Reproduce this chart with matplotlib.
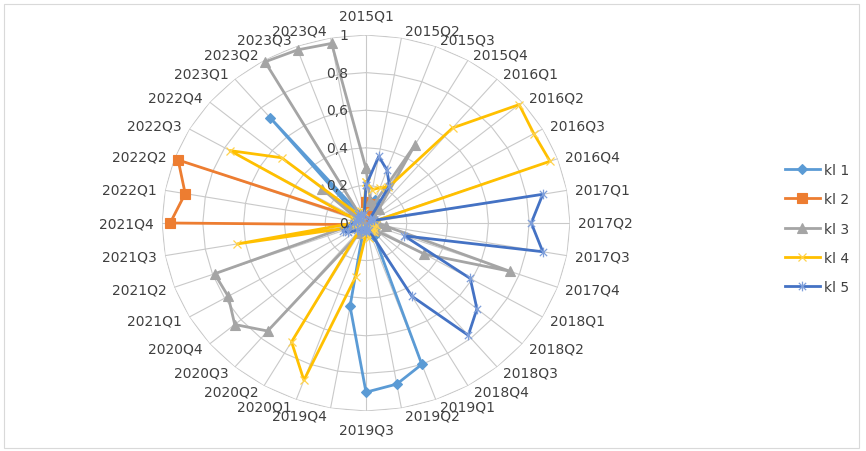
import numpy as np
import matplotlib

matplotlib.use("Agg")
import matplotlib.pyplot as plt  # noqa: E402
from matplotlib.path import Path  # noqa: E402
from matplotlib.patches import Rectangle  # noqa: E402

plt.rcParams["font.family"] = ["DejaVu Sans"]

# quarters 2015Q1 .. 2023Q4
quarters = [f"{y}Q{q}" for y in range(2015, 2024) for q in range(1, 5)]

kl1 = [0.06, 0.08, 0.13, 0.06, 0.03, 0.02, 0.03, 0.02, 0.03, 0.02, 0.04, 0.03,
       0.05, 0.04, 0.06, 0.08, 0.80, 0.87, 0.90, 0.45, 0.04, 0.03, 0.02, 0.03,
       0.02, 0.03, 0.02, 0.03, 0.02, 0.03, 0.04, 0.05, 0.73, 0.05, 0.03, 0.04]
kl2 = [0.11, 0.10, 0.04, 0.03, 0.02, 0.02, 0.02, 0.01, 0.02, 0.02, 0.01, 0.02,
       0.02, 0.01, 0.02, 0.02, 0.01, 0.02, 0.02, 0.01, 0.02, 0.02, 0.03, 0.02,
       0.03, 0.04, 0.05, 0.96, 0.90, 0.98, 0.05, 0.04, 0.03, 0.03, 0.04, 0.05]
kl3 = [0.29, 0.12, 0.10, 0.48, 0.10, 0.05, 0.04, 0.05, 0.04, 0.06, 0.10, 0.75,
       0.33, 0.06, 0.05, 0.04, 0.05, 0.03, 0.04, 0.03, 0.05, 0.06, 0.75, 0.84,
       0.78, 0.79, 0.08, 0.05, 0.04, 0.05, 0.06, 0.28, 0.03, 0.99, 0.98, 0.97]
kl4 = [0.22, 0.18, 0.20, 0.22, 0.66, 0.98, 0.95, 0.96, 0.03, 0.04, 0.05, 0.03,
       0.04, 0.05, 0.06, 0.05, 0.07, 0.08, 0.06, 0.29, 0.89, 0.73, 0.05, 0.04,
       0.05, 0.06, 0.64, 0.06, 0.05, 0.06, 0.77, 0.54, 0.06, 0.05, 0.07, 0.06]
kl5 = [0.20, 0.36, 0.30, 0.23, 0.03, 0.02, 0.03, 0.04, 0.88, 0.81, 0.88, 0.20,
       0.59, 0.71, 0.78, 0.45, 0.04, 0.03, 0.05, 0.04, 0.03, 0.05, 0.04, 0.06,
       0.10, 0.12, 0.08, 0.06, 0.05, 0.04, 0.05, 0.04, 0.06, 0.05, 0.04, 0.05]

series_names = ["kl 1", "kl 2", "kl 3", "kl 4", "kl 5"]
series_values = [kl1, kl2, kl3, kl4, kl5]
radial_ticks = [0, 0.2, 0.4, 0.6, 0.8, 1.0]
radial_labels = ["0", "0,2", "0,4", "0,6", "0,8", "1"]

# excel-like asterisk marker
asterisk = Path([(0, -1), (0, 1), (-0.75, -0.75), (0.75, 0.75), (-0.75, 0.75), (0.75, -0.75)],
                [Path.MOVETO, Path.LINETO, Path.MOVETO, Path.LINETO, Path.MOVETO, Path.LINETO])

styles = [
    dict(color="#5B9BD5", marker="D", ms=5, mfc="#5B9BD5", mec="#5B9BD5", mew=0.8),
    dict(color="#ED7D31", marker="s", ms=6.5, mfc="#ED7D31", mec="#ED7D31", mew=0.8),
    dict(color="#A5A5A5", marker="^", ms=6.5, mfc="#A5A5A5", mec="#A5A5A5", mew=0.8),
    dict(color="#FFC000", marker="x", ms=6, mfc="none", mec="#FFD34D", mew=0.9),
    dict(color="#4472C4", marker=asterisk, ms=7, mfc="none", mec="#7F9FDA", mew=0.9),
]

TXT = "#404040"
GRID = "#C9C9C9"

fig = plt.figure(figsize=(8.66, 4.52), dpi=100)
fig.add_artist(Rectangle((4 / 866, 3 / 452), 855 / 866, 444 / 452, transform=fig.transFigure,
                         fill=False, edgecolor="#D9D9D9", linewidth=0.8))

ax = fig.add_axes([162 / 866, 40 / 452, 408 / 866, 376 / 452], projection="polar")
ax.set_aspect("auto")
ax.set_theta_zero_location("N")
ax.set_theta_direction(-1)
ax.set_ylim(0, 1)
ax.grid(False)
ax.set_xticks([])
ax.set_yticks([])
ax.spines["polar"].set_visible(False)
ax.patch.set_visible(False)

n = len(quarters)
theta = np.arange(n) * 2 * np.pi / n
theta_closed = np.append(theta, theta[0])

# polygon rings and spokes
for r in radial_ticks[1:]:
    ax.plot(theta_closed, [r] * (n + 1), color=GRID, lw=0.8, zorder=1)
for t in theta:
    ax.plot([t, t], [0, 1], color=GRID, lw=0.8, zorder=1)

for name, vals, st in zip(series_names, series_values, styles):
    v = np.append(vals, vals[0])
    ax.plot(theta_closed, v, lw=2.0, label=name, clip_on=False, zorder=3, **st)

# radial scale labels along the top spoke
for r, lab in zip(radial_ticks, radial_labels):
    ax.annotate(lab, xy=(0, r), xytext=(-18, 0), textcoords="offset pixels",
                ha="right", va="center", fontsize=10, color=TXT, annotation_clip=False)

# category labels around the rim
for t, lab in zip(theta, quarters):
    s, c = np.sin(t), np.cos(t)
    if abs(s) < 0.05:
        ha, dx, dy = "center", 0, 19 * c
    else:
        ha = "left" if s > 0 else "right"
        dx = np.sign(s) * (3 + 5 * abs(s))
        dy = 7 * c
    ax.annotate(lab, xy=(t, 1), xytext=(dx, dy), textcoords="offset pixels",
                ha=ha, va="center", fontsize=10, color=TXT, annotation_clip=False)

fig.legend(loc="center left", bbox_to_anchor=(785 / 866, 0.492), frameon=False,
           fontsize=10, handlelength=2.5, handletextpad=0.3, labelspacing=1.1,
           borderpad=0, borderaxespad=0, labelcolor=TXT)

fig.savefig("out.png", dpi=100)
